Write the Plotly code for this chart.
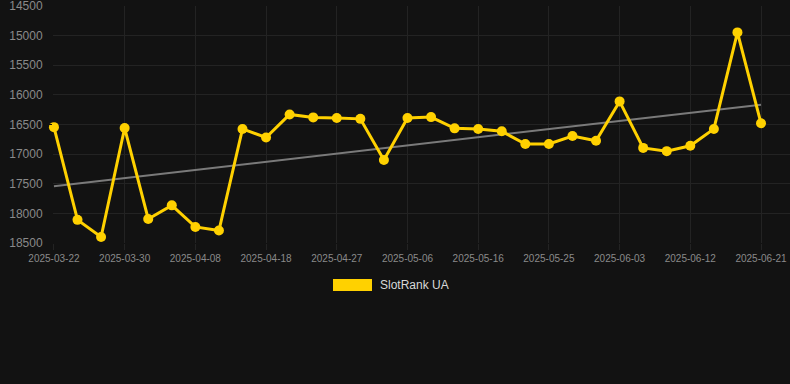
import numpy as np
import plotly.graph_objects as go

dates = [
    "2025-03-22", "2025-03-25", "2025-03-27", "2025-03-30", "2025-04-02", "2025-04-05",
    "2025-04-08", "2025-04-11", "2025-04-15", "2025-04-18", "2025-04-21", "2025-04-24",
    "2025-04-27", "2025-04-30", "2025-05-03", "2025-05-06", "2025-05-09", "2025-05-13",
    "2025-05-16", "2025-05-19", "2025-05-22", "2025-05-25", "2025-05-28", "2025-05-31",
    "2025-06-03", "2025-06-06", "2025-06-09", "2025-06-12", "2025-06-15", "2025-06-18",
    "2025-06-21",
]
rank = [
    16545, 18110, 18400, 16560, 18095, 17865, 18230, 18290, 16575, 16720,
    16330, 16380, 16390, 16405, 17100, 16390, 16375, 16565, 16575, 16615,
    16830, 16830, 16695, 16775, 16110, 16895, 16950, 16860, 16575, 14945,
    16480,
]
tick_labels = dates[::3]
y_ticks = [14500, 15000, 15500, 16000, 16500, 17000, 17500, 18000, 18500]
y_tick_text = [str(v) for v in y_ticks]
series_name = "SlotRank UA"

BG = "#121212"
GRID = "#232323"
GOLD = "#FFD100"
TICK = "#8a8a8a"

idx = np.arange(len(rank))
slope, intercept = np.polyfit(idx, rank, 1)
trend = slope * idx + intercept

fig = go.Figure()
fig.add_trace(go.Scatter(
    x=dates, y=trend, mode="lines",
    line=dict(color="#7a7a7a", width=2),
    hoverinfo="skip", showlegend=False,
))
fig.add_trace(go.Scatter(
    x=dates, y=rank, mode="lines+markers", name=series_name,
    line=dict(color=GOLD, width=3),
    marker=dict(color=GOLD, size=10),
    cliponaxis=False, showlegend=False,
))

W, H = 790, 384
L, R, T, B = 53, 0, 6, 141
pw, ph = W - L - R, H - T - B


def px_x(px):
    return (px - L) / pw


def px_y(py):
    return (H - B - py) / ph


# legend swatch + label
fig.add_shape(type="rect", xref="paper", yref="paper",
              x0=px_x(333), x1=px_x(372), y0=px_y(291), y1=px_y(279),
              fillcolor=GOLD, line=dict(width=0))
fig.add_annotation(xref="paper", yref="paper", x=px_x(378), y=px_y(285),
                   text=series_name, showarrow=False, xanchor="left", yanchor="middle",
                   font=dict(size=12, color="#d8d8d8"))

fig.update_layout(
    width=W, height=H,
    margin=dict(l=L, r=R, t=T, b=B),
    paper_bgcolor=BG, plot_bgcolor=BG,
    font=dict(family="Liberation Sans, Arial, sans-serif", color=TICK),
    showlegend=False,
)
fig.update_xaxes(
    type="category", range=[-0.04, 31.23],
    tickmode="array", tickvals=tick_labels, ticktext=tick_labels,
    showgrid=True, gridcolor=GRID, gridwidth=1,
    ticks="outside", ticklen=6, tickcolor=GRID,
    tickfont=dict(size=10, color=TICK),
    showline=False, zeroline=False,
)
fig.update_yaxes(
    range=[18501, 14499],
    tickmode="array", tickvals=y_ticks, ticktext=y_tick_text,
    showgrid=True, gridcolor=GRID, gridwidth=1,
    ticks="outside", ticklen=7, tickcolor=BG,
    tickfont=dict(size=12, color=TICK),
    ticklabeloverflow="allow",
    showline=False, zeroline=False,
)

fig.write_html(
    "out.html",
    config={"displayModeBar": False},
    post_script="document.body.style.margin='0';document.body.style.background='#121212';",
)
